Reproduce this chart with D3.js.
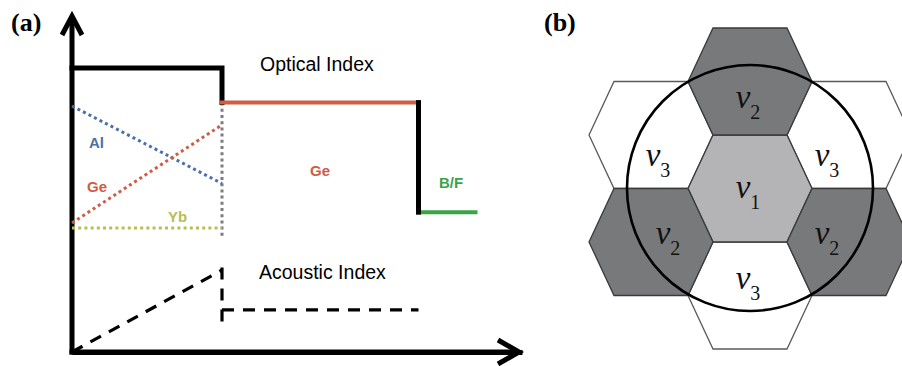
<!DOCTYPE html>
<html><head><meta charset="utf-8">
<script src="https://cdn.jsdelivr.net/npm/d3@7"></script>
<style>
html,body{margin:0;padding:0;background:#fff;}
svg{display:block;}
</style></head>
<body>
<svg id="chart" width="902" height="366"></svg>
<script>
// ---------- Panel (a) data ----------
const regionBounds   = [0, 1, 2.31, 2.69];        // core edge, cladding edge, outer end (radial units)
const opticalIndex   = [84.3, 74, 41.5];           // core, Ge cladding, B/F layer
const alProfile      = [73, 50];                   // Al dopant, r=0 -> r=1
const geProfile      = [38.3, 67.4];               // Ge dopant, r=0 -> r=1
const ybProfile      = [36.8, 36.8];               // Yb dopant
const coreMarkerSpan = [74, 34.1];                 // grey dotted core boundary
const acousticIndex  = [0, 24.3, 12.5, 8.9];       // acoustic profile: r=0, core edge, cladding, boundary tick
const regionLabels   = ["Al", "Ge", "Yb", "Ge", "B/F"];
const titleLabels    = ["Optical Index", "Acoustic Index"];

// ---------- Panel (b) data ----------
const hexCol   = [0, 0, -1, 1, -1, 1, 0];
const hexRow   = [0, -2, -1, -1, 1, 1, 2];
const hexLevel = [1, 2, 3, 3, 2, 2, 3];

const svg = d3.select("#chart");
const colors = {blue:"#4a70a8", red:"#cf5c44", yellow:"#b7be52", green:"#3aa348", gray:"#7c7c82"};

// ===== Panel (a) =====
const x = d3.scaleLinear().domain([0, 3]).range([72, 522]);
const y = d3.scaleLinear().domain([0, 100]).range([352, 15]);
const line = d3.line().x(d => x(d[0])).y(d => y(d[1]));

const gA = svg.append("g");

// axes (no ticks)
gA.append("g").attr("transform", `translate(0,${y(0)})`)
  .call(d3.axisBottom(x).tickValues([]).tickSizeOuter(0))
  .call(g => g.select(".domain").attr("stroke", "#000").attr("stroke-width", 5));
gA.append("g").attr("transform", `translate(${x(0)},0)`)
  .call(d3.axisLeft(y).tickValues([]).tickSizeOuter(0))
  .call(g => g.select(".domain").attr("stroke", "#000").attr("stroke-width", 5).attr("d", `M0,${y(0)+2.5}V${y(100)+3}`));
gA.append("path").attr("d", `M${x(0)-2.5},${y(0)}H${x(3)-4}`).attr("stroke","#000").attr("stroke-width",5);
// arrowheads
gA.append("path").attr("fill","none").attr("stroke","#000").attr("stroke-width",5).attr("stroke-linejoin","miter")
  .attr("d", `M${x(0)-10},${y(100)+20}L${x(0)},${y(100)+1}L${x(0)+10},${y(100)+20}`);
gA.append("path").attr("fill","none").attr("stroke","#000").attr("stroke-width",5).attr("stroke-linejoin","miter")
  .attr("d", `M${x(3)-24},${y(0)-12}L${x(3)-3},${y(0)}L${x(3)-24},${y(0)+12}`);

// dotted dopant profiles
const dotted = (pts, col) => gA.append("path").attr("d", line(pts)).attr("fill","none")
  .attr("stroke", col).attr("stroke-width", 3).attr("stroke-dasharray", "3,3.2");
dotted([[regionBounds[1], coreMarkerSpan[0]], [regionBounds[1], coreMarkerSpan[1]]], colors.gray);
dotted([[regionBounds[0], alProfile[0]], [regionBounds[1], alProfile[1]]], colors.blue);
dotted([[regionBounds[0], geProfile[0]], [regionBounds[1], geProfile[1]]], colors.red);
dotted([[regionBounds[0], ybProfile[0]], [regionBounds[1], ybProfile[1]]], colors.yellow);

// optical index step profile
const solid = (pts, col, w) => gA.append("path").attr("d", line(pts)).attr("fill","none")
  .attr("stroke", col).attr("stroke-width", w).attr("stroke-linecap","square");
solid([[regionBounds[0], opticalIndex[0]], [regionBounds[1], opticalIndex[0]], [regionBounds[1], opticalIndex[1]]], "#000", 5);
solid([[regionBounds[1], opticalIndex[1]], [regionBounds[2], opticalIndex[1]]], colors.red, 4);
solid([[regionBounds[3], opticalIndex[2]], [regionBounds[2], opticalIndex[2]]], colors.green, 4);
solid([[regionBounds[2], opticalIndex[1]], [regionBounds[2], opticalIndex[2]]], "#000", 5);

// acoustic profile (dashed)
const dashed = (pts) => gA.append("path").attr("d", line(pts)).attr("fill","none")
  .attr("stroke", "#000").attr("stroke-width", 3.2).attr("stroke-dasharray", "12,9");
dashed([[regionBounds[0], acousticIndex[0]], [regionBounds[1], acousticIndex[1]]]);
dashed([[regionBounds[1], acousticIndex[1]+0.8], [regionBounds[1], acousticIndex[3]]]);
dashed([[regionBounds[1], acousticIndex[2]], [regionBounds[2], acousticIndex[2]]]);

// texts
const sans = "'Liberation Sans', Arial, sans-serif";
gA.append("text").attr("x", 260).attr("y", 71).attr("font-family", sans).attr("font-size", 19.5).text(titleLabels[0]);
gA.append("text").attr("x", 259).attr("y", 279).attr("font-family", sans).attr("font-size", 19.5).text(titleLabels[1]);
const lab = (t, xx, yy, col) => gA.append("text").attr("x", xx).attr("y", yy).attr("font-family", sans)
  .attr("font-size", 15).attr("font-weight", "bold").attr("fill", col).text(t);
lab(regionLabels[0], 89, 148, colors.blue);
lab(regionLabels[1], 87, 192, colors.red);
lab(regionLabels[2], 168, 222, colors.yellow);
lab(regionLabels[3], 310, 176, colors.red);
lab(regionLabels[4], 439, 188, colors.green);

const serif = "'Liberation Serif', 'Times New Roman', serif";
svg.append("text").attr("x", 11).attr("y", 31).attr("font-family", serif).attr("font-weight", "bold")
  .attr("font-size", 26).text("(a)");
svg.append("text").attr("x", 544).attr("y", 31).attr("font-family", serif).attr("font-weight", "bold")
  .attr("font-size", 26).text("(b)");

// ===== Panel (b) =====
const hx = d3.scaleLinear().domain([-1, 1]).range([651, 849]);
const hy = d3.scaleLinear().domain([-2, 2]).range([81.5, 295.5]);
const HW = 62, HT = 37, HH = 53.5;   // half width, half top edge, half height
const hexPath = (cx, cy) => `M${cx-HW},${cy}L${cx-HT},${cy-HH}L${cx+HT},${cy-HH}L${cx+HW},${cy}L${cx+HT},${cy+HH}L${cx-HT},${cy+HH}Z`;
const fillFor = {1:"#b4b4b6", 2:"#78797b", 3:"#ffffff"};

const hexes = hexCol.map((c, i) => ({col:c, row:hexRow[i], level:hexLevel[i]}));
const gB = svg.append("g");
const order = hexes.slice().sort((a, b) => (b.level === 3) - (a.level === 3));
gB.selectAll("path.hex").data(order).join("path").attr("class","hex")
  .attr("d", d => hexPath(hx(d.col), hy(d.row)))
  .attr("fill", d => fillFor[d.level])
  .attr("stroke", d => d.level === 3 ? "#5a5a5a" : "#3a3a3a")
  .attr("stroke-width", 1.3).attr("stroke-linejoin","miter");

gB.append("circle").attr("cx", hx(0)).attr("cy", hy(0) - 0.5).attr("r", 123)
  .attr("fill", "none").attr("stroke", "#000").attr("stroke-width", 2.6);

// label offsets (layout) relative to each hex centre
const labelOffset = {"0,0":[-2,9], "0,-2":[-2,26.5], "-1,-1":[7,31], "1,-1":[-22,31], "-1,1":[17,2], "1,1":[-22,2], "0,2":[-2,-7]};
hexes.forEach(d => {
  const o = labelOffset[d.col + "," + d.row];
  const t = gB.append("text").attr("x", hx(d.col) + o[0]).attr("y", hy(d.row) + o[1])
    .attr("text-anchor", "middle").attr("font-family", serif).attr("fill", "#111");
  t.append("tspan").attr("font-style", "italic").attr("font-size", 33).text("ν");
  t.append("tspan").attr("font-size", 20).attr("dy", 11).text(String(d.level));
});
</script>
</body></html>
